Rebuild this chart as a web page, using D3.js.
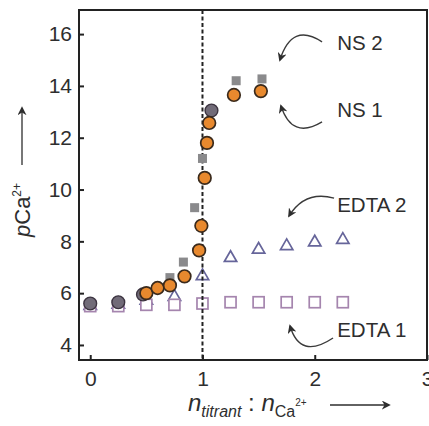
<!DOCTYPE html>
<html>
<head>
<meta charset="utf-8">
<script src="https://cdn.jsdelivr.net/npm/d3@7"></script>
<style>
  html, body { margin: 0; padding: 0; background: #fff; }
  svg { display: block; font-family: "Liberation Sans", Arial, sans-serif; }
</style>
</head>
<body>
<svg id="chart" width="429" height="426"></svg>
<script>
const xTicks = [0, 1, 2, 3];
const yTicks = [4, 6, 8, 10, 12, 14, 16];

// NS 1: orange circles
const ns1X = [0.5, 0.6, 0.71, 0.84, 0.97, 0.99, 1.02, 1.04, 1.06, 1.28, 1.52];
const ns1Y = [6.0, 6.2, 6.3, 6.65, 7.65, 8.6, 10.45, 11.8, 12.57, 13.65, 13.8];
// NS 2: grey markers
const ns2SquareX = [0.71, 0.83, 0.93, 1.0, 1.3, 1.53];
const ns2SquareY = [6.6, 7.2, 9.3, 11.2, 14.2, 14.27];
const ns2CircleX = [0, 0.25, 0.47, 1.08];
const ns2CircleY = [5.6, 5.65, 5.95, 13.05];
// EDTA titrations
const edtaX = [0, 0.25, 0.5, 0.75, 1, 1.25, 1.5, 1.75, 2, 2.25];
const edta2Y = [5.55, 5.6, 5.75, 5.9, 6.7, 7.4, 7.72, 7.86, 8.0, 8.1];
const edta1Y = [5.5, 5.5, 5.55, 5.55, 5.6, 5.65, 5.65, 5.65, 5.65, 5.65];
const equivalence = 1;

// annotations (data units): label anchor and curved pointer start / bend / tip
const labels = ["NS 2", "NS 1", "EDTA 2", "EDTA 1"];
const labelX = [2.2, 2.2, 2.2, 2.2];
const labelY = [15.39, 12.8, 9.13, 4.31];
const pointers = [
  [2.065, 15.70, 1.797, 16.47, 1.690, 15.00],
  [2.065, 12.61, 1.797, 11.91, 1.699, 13.23],
  [2.172, 9.67, 1.913, 9.98, 1.771, 8.98],
  [2.163, 4.27, 1.869, 3.42, 1.780, 4.73],
];

const svg = d3.select("#chart");
const W = 429, H = 426;
const m = { left: 79, right: 2, top: 10, bottom: 66 };

const x = d3.scaleLinear().domain([-0.1, 3.0]).range([m.left, W - m.right]);
const y = d3.scaleLinear().domain([3.42, 16.93]).range([H - m.bottom, m.top]);

svg.append("rect").attr("width", W).attr("height", H).attr("fill", "#fff");

const defs = svg.append("defs");
defs.append("marker")
  .attr("id", "head")
  .attr("viewBox", "0 0 10 10")
  .attr("refX", 8).attr("refY", 5)
  .attr("markerWidth", 9).attr("markerHeight", 9)
  .attr("markerUnits", "userSpaceOnUse")
  .attr("orient", "auto")
  .append("path").attr("d", "M0,0 L10,5 L0,10 L3,5 Z").attr("fill", "#2e2e2e");

// axes with inward ticks
const gx = svg.append("g")
  .attr("transform", `translate(0,${H - m.bottom})`)
  .call(d3.axisBottom(x).tickValues(xTicks).tickFormat(d3.format("d"))
    .tickSizeInner(-5).tickSizeOuter(0).tickPadding(11));
const gy = svg.append("g")
  .attr("transform", `translate(${m.left},0)`)
  .call(d3.axisLeft(y).tickValues(yTicks).tickFormat(d3.format("d"))
    .tickSizeInner(-5).tickSizeOuter(0).tickPadding(7));
for (const g of [gx, gy]) {
  g.select(".domain").remove();
  g.selectAll(".tick line").attr("stroke", "#222").attr("stroke-width", 2);
  g.selectAll(".tick text").attr("fill", "#2e2e2e").style("font-size", "21px");
}

// EDTA 2 triangles
const tri = d3.symbol().type(d3.symbolTriangle).size(66);
svg.append("g").selectAll("path").data(edtaX).join("path")
  .attr("d", tri)
  .attr("transform", (d, i) => `translate(${x(d)},${y(edta2Y[i]) + 1})`)
  .attr("fill", "#fff").attr("stroke", "#66659a").attr("stroke-width", 1.7);

// EDTA 1 squares
svg.append("g").selectAll("rect").data(edtaX).join("rect")
  .attr("x", d => x(d) - 5.5).attr("y", (d, i) => y(edta1Y[i]) - 5.5)
  .attr("width", 11).attr("height", 11)
  .attr("fill", "#fff").attr("stroke", "#a585ae").attr("stroke-width", 1.7);

// equivalence line
svg.append("line")
  .attr("x1", x(equivalence)).attr("x2", x(equivalence))
  .attr("y1", y.range()[1]).attr("y2", y.range()[0])
  .attr("stroke", "#222").attr("stroke-width", 2)
  .attr("stroke-dasharray", "4,2.5");

// NS 2 grey markers
svg.append("g").selectAll("rect").data(ns2SquareX).join("rect")
  .attr("x", d => x(d) - 4.5).attr("y", (d, i) => y(ns2SquareY[i]) - 4.5)
  .attr("width", 9).attr("height", 9)
  .attr("fill", "#8a8a8c");
svg.append("g").selectAll("circle").data(ns2CircleX).join("circle")
  .attr("cx", d => x(d)).attr("cy", (d, i) => y(ns2CircleY[i]))
  .attr("r", 6.4)
  .attr("fill", "#716b78").attr("stroke", "#3c3440").attr("stroke-width", 1.4);

// NS 1 orange circles
svg.append("g").selectAll("circle").data(ns1X).join("circle")
  .attr("cx", d => x(d)).attr("cy", (d, i) => y(ns1Y[i]))
  .attr("r", 6.3)
  .attr("fill", "#e8892e").attr("stroke", "#3a2a1c").attr("stroke-width", 1.7);

// frame
svg.append("rect")
  .attr("x", m.left).attr("y", m.top)
  .attr("width", W - m.right - m.left).attr("height", H - m.bottom - m.top)
  .attr("fill", "none").attr("stroke", "#222").attr("stroke-width", 2);

// annotations
const ann = svg.append("g");
ann.selectAll("text").data(labels).join("text")
  .attr("x", (d, i) => x(labelX[i])).attr("y", (d, i) => y(labelY[i]))
  .attr("fill", "#2e2e2e").style("font-size", "20.5px")
  .text(d => d);
ann.selectAll("path").data(pointers).join("path")
  .attr("d", p => {
    const pa = d3.path();
    pa.moveTo(x(p[0]), y(p[1]));
    pa.quadraticCurveTo(x(p[2]), y(p[3]), x(p[4]), y(p[5]));
    return pa.toString();
  })
  .attr("fill", "none").attr("stroke", "#3a3a3a").attr("stroke-width", 1.4)
  .attr("marker-end", "url(#head)");

// y axis title
const yt = svg.append("text")
  .attr("transform", "translate(30,237) rotate(-90)")
  .attr("fill", "#2e2e2e").style("font-size", "22px");
yt.append("tspan").style("font-style", "italic").text("p");
yt.append("tspan").text("Ca");
yt.append("tspan").attr("dy", -9).style("font-size", "12px").text("2+");
svg.append("line")
  .attr("x1", 22).attr("x2", 22).attr("y1", 165).attr("y2", 108)
  .attr("stroke", "#2e2e2e").attr("stroke-width", 1.3)
  .attr("marker-end", "url(#head)");

// x axis title
const xt = svg.append("text")
  .attr("x", 188).attr("y", 411)
  .attr("fill", "#2e2e2e").style("font-size", "24px").style("white-space", "pre");
xt.append("tspan").style("font-style", "italic").text("n");
xt.append("tspan").attr("dy", 6).style("font-size", "16px").style("font-style", "italic").text("titrant");
xt.append("tspan").attr("dy", -6).text(" : ");
xt.append("tspan").style("font-style", "italic").text("n");
xt.append("tspan").attr("dy", 6).style("font-size", "16px").text("Ca");
xt.append("tspan").attr("dy", -11).style("font-size", "10px").text("2+");
svg.append("line")
  .attr("x1", 330).attr("x2", 389).attr("y1", 405).attr("y2", 405)
  .attr("stroke", "#2e2e2e").attr("stroke-width", 1.3)
  .attr("marker-end", "url(#head)");
</script>
</body>
</html>
